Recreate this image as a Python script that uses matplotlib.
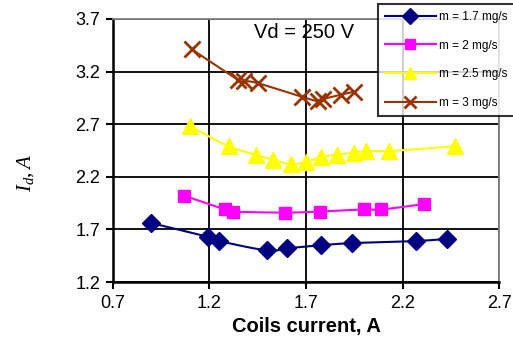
import numpy as np
import matplotlib
matplotlib.use('Agg')
import matplotlib.pyplot as plt

plt.rcParams['font.family'] = ['Liberation Sans', 'DejaVu Sans']
plt.rcParams['mathtext.fontset'] = 'custom'
plt.rcParams['mathtext.it'] = 'Liberation Serif:italic'
plt.rcParams['mathtext.rm'] = 'Liberation Serif'

# discharge current vs coils current, Vd = 250 V
x17 = [0.90, 1.19, 1.25, 1.50, 1.60, 1.78, 1.94, 2.27, 2.43]
y17 = [1.76, 1.63, 1.59, 1.50, 1.52, 1.55, 1.57, 1.59, 1.61]

x20 = [1.07, 1.28, 1.32, 1.59, 1.77, 2.00, 2.09, 2.31]
y20 = [2.02, 1.89, 1.87, 1.86, 1.87, 1.89, 1.89, 1.94]

x25 = [1.10, 1.30, 1.44, 1.53, 1.62, 1.70, 1.78, 1.86, 1.95, 2.01, 2.13, 2.47]
y25 = [2.68, 2.49, 2.41, 2.36, 2.32, 2.34, 2.39, 2.41, 2.43, 2.445, 2.445, 2.49]

x30 = [1.11, 1.35, 1.38, 1.45, 1.68, 1.76, 1.79, 1.88, 1.95]
y30 = [3.41, 3.12, 3.11, 3.09, 2.96, 2.92, 2.94, 2.98, 3.01]

labels = ['m = 1.7 mg/s', 'm = 2 mg/s', 'm = 2.5 mg/s', 'm = 3 mg/s']
xticks = [0.7, 1.2, 1.7, 2.2, 2.7]
yticks = [1.2, 1.7, 2.2, 2.7, 3.2, 3.7]


def smooth(x, y, n=12):
    # Catmull-Rom curve through the points, like a smoothed line in a spreadsheet
    p = np.column_stack([x, y])
    p = np.vstack([p[0], p, p[-1]])
    out = []
    t = np.linspace(0, 1, n, endpoint=False)[:, None]
    for i in range(1, len(p) - 2):
        p0, p1, p2, p3 = p[i - 1], p[i], p[i + 1], p[i + 2]
        seg = 0.5 * ((2 * p1) + (-p0 + p2) * t + (2 * p0 - 5 * p1 + 4 * p2 - p3) * t ** 2
                     + (-p0 + 3 * p1 - 3 * p2 + p3) * t ** 3)
        out.append(seg)
    out.append(p[-2][None, :])
    out = np.vstack(out)
    return out[:, 0], out[:, 1]


fig = plt.figure(figsize=(5.13, 3.39), dpi=100)
ax = fig.add_axes([0.22, 0.168, 0.753, 0.776])

series = [(x17, y17, '#000080', 'D', 9),
          (x20, y20, '#FF00FF', 's', 8.5),
          (x25, y25, '#FFFF00', '^', 11),
          (x30, y30, '#993300', 'x', 11)]

handles = []
for (xs, ys, c, m, ms), lab in zip(series, labels):
    sx, sy = smooth(xs, ys)
    ax.plot(sx, sy, color=c, lw=1.5, zorder=3)
    mew = 2.0 if m == 'x' else 1.0
    ax.plot(xs, ys, ls='none', marker=m, ms=ms, color=c, mec=c, mew=mew, zorder=4)
    h, = ax.plot([], [], color=c, lw=1.5, marker=m, ms=ms * 0.85, mec=c, mew=mew)
    handles.append(h)

ax.set_xlim(0.7, 2.7)
ax.set_ylim(1.2, 3.7)
ax.set_xticks(xticks)
ax.set_yticks(yticks)
ax.set_xticklabels([str(v) for v in xticks])
ax.set_yticklabels([str(v) for v in yticks])
ax.tick_params(direction='out', length=5, width=1.5, labelsize=13, pad=4)
ax.grid(True, color='black', lw=1.3)
ax.set_axisbelow(True)

for side in ['left', 'bottom']:
    ax.spines[side].set_linewidth(1.8)
    ax.spines[side].set_color('black')
for side in ['top', 'right']:
    ax.spines[side].set_linewidth(1.3)
    ax.spines[side].set_color('#808080')

ax.set_xlabel('Coils current, A', fontsize=14.5, fontweight='bold', labelpad=4)
fig.text(0.05, 0.49, r'$I_d, A$', rotation=90, fontsize=15, ha='center', va='center')

ax.text(1.69, 3.567, 'Vd = 250 V', fontsize=14.5, ha='center', va='center', zorder=5)

leg = fig.legend(handles=handles, labels=labels, loc='upper left',
                 bbox_to_anchor=(378 / 513, 1 - 4 / 339), fontsize=8.5,
                 frameon=True, fancybox=False, edgecolor='black',
                 handlelength=4.3, labelspacing=1.4, borderpad=0.6,
                 handletextpad=0.3, borderaxespad=0)
leg.get_frame().set_linewidth(1.5)

plt.savefig('out.png', dpi=100)
